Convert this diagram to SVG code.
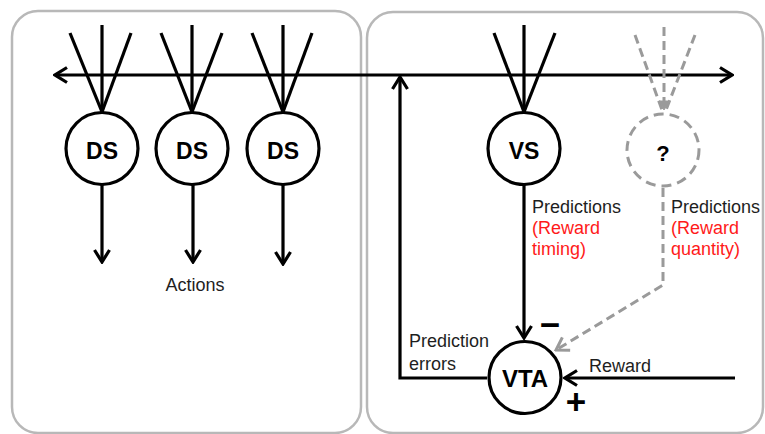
<svg xmlns="http://www.w3.org/2000/svg" width="765" height="434" viewBox="0 0 765 434">
<defs>
<style>
.panel{fill:#fff;stroke:#b8b8b8;stroke-width:2.5}
.ln{fill:none;stroke:#000;stroke-width:3.2}
.dl{fill:none;stroke:#9a9a9a;stroke-width:3;stroke-dasharray:9 5}
.node{fill:#fff;stroke:#000;stroke-width:3.2}
.qnode{fill:#fff;stroke:#9a9a9a;stroke-width:3;stroke-dasharray:10 6}
.nl{font-family:"Liberation Sans",Arial,sans-serif;font-weight:bold;font-size:23px;text-anchor:middle;fill:#000}
.t{font-family:"Liberation Sans",Arial,sans-serif;font-size:18px;fill:#1e1e1e}
.r{fill:#ff1a1a}
.sign{font-family:"Liberation Sans",Arial,sans-serif;font-weight:bold;font-size:35px;text-anchor:middle;fill:#000}
</style>
<marker id="ah" viewBox="0 0 16 18" markerUnits="userSpaceOnUse" markerWidth="16" markerHeight="18" refX="14" refY="9" orient="auto-start-reverse">
<path d="M2,1.5 L14,9 L2,16.5" fill="none" stroke="#000" stroke-width="3.2"/>
</marker>
<marker id="ahg" viewBox="0 0 16 18" markerUnits="userSpaceOnUse" markerWidth="16" markerHeight="18" refX="14" refY="9" orient="auto">
<path d="M2,1.5 L14,9 L2,16.5" fill="none" stroke="#9a9a9a" stroke-width="3"/>
</marker>
<marker id="ahgs" viewBox="0 0 12 12" markerUnits="userSpaceOnUse" markerWidth="12" markerHeight="12" refX="10" refY="6" orient="auto">
<path d="M1,1 L10,6 L1,11 Z" fill="#9a9a9a" stroke="#9a9a9a" stroke-width="1"/>
</marker>
</defs>
<rect x="0" y="0" width="765" height="434" fill="#fff"/>
<g id="panels">
<rect class="panel" x="12" y="11" width="349" height="422" rx="26"/>
<rect class="panel" x="367" y="12" width="396" height="421" rx="26"/>
</g>
<g id="connectors">
<line class="ln" x1="55" y1="75" x2="732" y2="75" marker-start="url(#ah)" marker-end="url(#ah)"/>
<line class="ln" x1="70" y1="33" x2="102" y2="112"/>
<line class="ln" x1="102" y1="25" x2="102" y2="112"/>
<line class="ln" x1="131" y1="33" x2="102" y2="112"/>
<line class="ln" x1="161" y1="33" x2="192" y2="112"/>
<line class="ln" x1="192" y1="25" x2="192" y2="112"/>
<line class="ln" x1="222" y1="33" x2="192" y2="112"/>
<line class="ln" x1="252" y1="33" x2="283" y2="112"/>
<line class="ln" x1="283" y1="25" x2="283" y2="112"/>
<line class="ln" x1="312" y1="33" x2="283" y2="112"/>
<line class="ln" x1="494" y1="33" x2="524" y2="112"/>
<line class="ln" x1="524" y1="25" x2="524" y2="112"/>
<line class="ln" x1="555" y1="33" x2="524" y2="112"/>
<line class="dl" x1="635" y1="35" x2="662" y2="110"/>
<line class="dl" x1="664" y1="27" x2="664" y2="110" marker-end="url(#ahgs)"/>
<line class="dl" x1="695" y1="35" x2="666" y2="110"/>
<line class="ln" x1="102" y1="185" x2="102" y2="262" marker-end="url(#ah)"/>
<line class="ln" x1="193" y1="185" x2="193" y2="262" marker-end="url(#ah)"/>
<line class="ln" x1="283" y1="185" x2="283" y2="264" marker-end="url(#ah)"/>
<line class="ln" x1="524" y1="185" x2="524" y2="338" marker-end="url(#ah)"/>
<path class="dl" d="M663,188 L663,285 L556,350" marker-end="url(#ahg)"/>
<path class="ln" d="M487,378 L400,378 L400,77" marker-end="url(#ah)"/>
<line class="ln" x1="735" y1="378" x2="565" y2="378" marker-end="url(#ah)"/>
</g>
<g id="node-ds1"><circle class="node" cx="102" cy="148.5" r="36"/><text class="nl" x="102" y="159">DS</text></g>
<g id="node-ds2"><circle class="node" cx="192" cy="148.5" r="36"/><text class="nl" x="192" y="159">DS</text></g>
<g id="node-ds3"><circle class="node" cx="283" cy="148.5" r="36"/><text class="nl" x="283" y="159">DS</text></g>
<g id="node-vs"><circle class="node" cx="524" cy="148.5" r="36"/><text class="nl" x="524" y="159">VS</text></g>
<g id="node-q"><circle class="qnode" cx="663" cy="150" r="36"/><text class="nl" x="663" y="161" style="font-size:22px">?</text></g>
<g id="node-vta"><circle class="node" cx="525" cy="377.5" r="36"/><text class="nl" x="525" y="387" style="font-size:24px">VTA</text></g>
<g id="labels">
<text class="t" x="195" y="291" text-anchor="middle">Actions</text>
<text class="t" x="532" y="213">Predictions</text>
<text class="t r" x="532" y="234">(Reward</text>
<text class="t r" x="532" y="255">timing)</text>
<text class="t" x="671" y="213">Predictions</text>
<text class="t r" x="671" y="234">(Reward</text>
<text class="t r" x="671" y="255">quantity)</text>
<text class="t" x="409" y="347">Prediction</text>
<text class="t" x="409" y="370">errors</text>
<text class="t" x="589" y="372">Reward</text>
<text class="sign" x="550" y="337">−</text>
<text class="sign" x="576" y="414">+</text>
</g>
</svg>
